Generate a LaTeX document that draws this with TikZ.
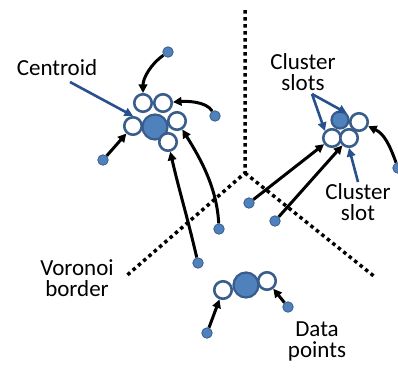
\documentclass[tikz,border=0pt]{standalone}
\usepackage{fontspec}
\setmainfont{Carlito}
\usetikzlibrary{arrows.meta}
\definecolor{ptfill}{RGB}{79,129,189}
\definecolor{ptline}{RGB}{56,93,138}
\definecolor{lblblue}{RGB}{40,80,140}
\begin{document}
\begin{tikzpicture}[x=1pt,y=-1pt,
  dpoint/.style={circle,fill=ptfill,draw=ptline,line width=0.8pt,minimum size=10.5pt,inner sep=0pt},
  cent/.style={circle,fill=ptfill,draw=ptline,line width=2.2pt,minimum size=25pt,inner sep=0pt},
  scent/.style={circle,fill=ptfill,draw=ptline,line width=2.2pt,minimum size=17pt,inner sep=0pt},
  slot/.style={circle,fill=white,draw=ptline,line width=2.6pt,minimum size=17.5pt,inner sep=0pt},
  blk/.style={line width=3pt,black,-{Triangle[length=8.5pt,width=8.5pt]}},
  bluarr/.style={line width=2.6pt,lblblue,-{Triangle[length=8.5pt,width=8.5pt]}},
  border/.style={line width=3.5pt,dash pattern=on 3.5pt off 3.5pt},
  lbl/.style={font=\fontsize{23}{21}\selectfont,align=center,inner sep=0pt}]
\useasboundingbox (0,0) rectangle (398,367);
% Voronoi border
\coordinate (vt) at (245,10);
\coordinate (vc) at (245,173);
\coordinate (vl) at (125,277);
\coordinate (vr) at (375,277);
\draw[border] (vt) -- (vc) -- (vl);
\draw[border] (vc) -- (vr);
% top-left cluster
\node[cent] (c1) at (155,127) {};
\node[slot] (s1a) at (143,103) {};
\node[slot] (s1b) at (163,103) {};
\node[slot] (s1c) at (177,121) {};
\node[slot] (s1d) at (133,126) {};
\node[slot] (s1e) at (168,142) {};
% right cluster
\node[slot] (s2b) at (359,122) {};
\node[slot] (s2c) at (332,138) {};
\node[slot] (s2d) at (349,138) {};
\node[scent] (c2) at (340,120) {};
% bottom cluster
\node[cent] (c3) at (246,285) {};
\node[slot] (s3a) at (223,290) {};
\node[slot] (s3b) at (267,281) {};
% data points
\node[dpoint] (p1) at (168,52) {};
\node[dpoint] (p2) at (215,116) {};
\node[dpoint] (p3) at (103,160) {};
\node[dpoint] (p4) at (198,263) {};
\node[dpoint] (p5) at (219,229) {};
\node[dpoint] (p6) at (249,203) {};
\node[dpoint] (p7) at (275,221) {};
\node[dpoint] (p8) at (398,168) {};
\node[dpoint] (p9) at (207,333) {};
\node[dpoint] (p10) at (288,307) {};
% black arrows
\draw[blk] (p1) to[out=215,in=90,looseness=0.9] (s1a);
\draw[blk] (p2) to[out=120,in=5,looseness=0.75] (s1b);
\draw[blk] (p3) -- (s1d);
\draw[blk] (p4) to[out=103,in=-77] (s1e);
\draw[blk] (p5) to[out=93,in=-58,looseness=0.9] (s1c);
\draw[blk] (p6) -- (s2c);
\draw[blk] (p7) -- (s2d);
\draw[blk] (p8) to[out=110,in=-25] (s2b);
\draw[blk] (p9) -- (s3a);
\draw[blk] (p10) -- (s3b);
% labels
\node[lbl] (tcent) at (57,68) {Centroid};
\node[lbl] (tslots) at (303,72) {Cluster\\slots};
\node[lbl] (tslot) at (358,202) {Cluster\\slot};
\node[lbl] (tvor) at (77,278) {Voronoi\\border};
\node[lbl] (tdata) at (317,341) {Data\\points};
\coordinate (ac) at (70,82);
\coordinate (as) at (312,94);
\coordinate (asl) at (358,182);
\draw[bluarr] (ac) -- (s1d.north);
\draw[bluarr] (as) -- (s2c.north west);
\draw[bluarr] (as) -- (c2.north east);
\draw[bluarr] (asl) -- (s2d.south);
\end{tikzpicture}
\end{document}
